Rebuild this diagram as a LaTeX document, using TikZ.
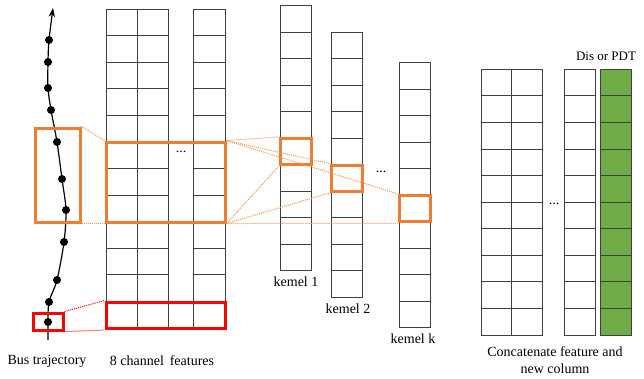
\documentclass[tikz,border=0pt]{standalone}
\usepackage{fontspec}
\setmainfont{Liberation Serif}
\usetikzlibrary{arrows.meta}
\definecolor{hlorange}{HTML}{ED7D31}
\definecolor{hlred}{HTML}{FF0000}
\definecolor{newcol}{HTML}{70AD47}
\definecolor{gridline}{HTML}{404040}
\tikzset{
  cell/.style={draw=gridline, line width=1pt},
  greencell/.style={draw=gridline, line width=1pt, fill=newcol},
  obox/.style={draw=hlorange, line width=3pt},
  rbox/.style={draw=hlred, line width=3pt},
  olink/.style={draw=hlorange!80, line width=1pt, densely dotted},
  rlink/.style={draw=hlred, line width=1pt, densely dotted},
  lbl/.style={font=\fontsize{14}{16}\selectfont, inner sep=0pt},
  dot/.style={fill=black, circle, inner sep=0pt, minimum size=8pt},
}
\begin{document}
\begin{tikzpicture}[x=1pt,y=-1pt]
\useasboundingbox (0,0) rectangle (644,378);

% ---------- bus trajectory ----------
\draw[line width=1.2pt, -{Stealth[length=9pt,width=6.5pt]}] plot[smooth, tension=0.5] coordinates {
  (48,340) (48,322) (49,302) (57,280) (64,242) (66,210) (62,179)
  (57,142) (51,110) (48,88) (48,62) (49,40) (53,8)};
\foreach \p [count=\i] in {(48,322),(49,302),(57,280),(64,242),(66,210),(62,179),(57,142),(51,110),(48,88),(48,62),(49,40)}
  \node[dot] (pt\i) at \p {};

\node[obox, minimum width=45pt, minimum height=94pt, inner sep=0pt] (trajwin) at (57.5,175) {};
\node[rbox, minimum width=30pt, minimum height=17pt, inner sep=0pt] (trajpt) at (48,321.5) {};
\node[lbl] (trajlbl) at (47,361) {Bus trajectory};

% ---------- 8 channel features ----------
\def\fh{26.58}
\foreach \r in {0,...,11} {
  \foreach \x/\w in {106/31,137/31,193/32}
    \draw[cell] (\x,9+\r*\fh) rectangle ++(\w,\fh);
}
\draw[cell] (168,9+11*\fh) rectangle ++(25,\fh);
\node[lbl] (fdots) at (181,152) {...};
\node[obox, minimum width=119pt, minimum height=80pt, inner sep=0pt] (featwin) at (165.5,182) {};
\node[rbox, minimum width=119pt, minimum height=26.5pt, inner sep=0pt] (featrow) at (165.5,315.3) {};
\node[lbl] (featlbl) at (162,361) {8 channel\, features};

% links between trajectory and features
\draw[olink] (trajwin.north east) -- (featwin.north west);
\draw[olink] (trajwin.south east) -- (featwin.south west);
\draw[rlink] (trajpt.north east) -- (featrow.north west);
\draw[rlink] (trajpt.south east) -- (featrow.south west);

% ---------- kernels ----------
\def\kh{26.5}
\foreach \kx/\ky in {280/5.7, 331/32.3, 399.5/62.7}
  \foreach \r in {0,...,9}
    \draw[cell] (\kx,\ky+\r*\kh) rectangle ++(31,\kh);
\node[obox, minimum width=31pt, minimum height=26.5pt, inner sep=0pt] (kwin1) at (295.5,151.7) {};
\node[obox, minimum width=31pt, minimum height=26.5pt, inner sep=0pt] (kwin2) at (346.5,178.3) {};
\node[obox, minimum width=31pt, minimum height=26.5pt, inner sep=0pt] (kwink) at (415,208.7) {};
\node[lbl] (klbl1) at (296,282) {kemel 1};
\node[lbl] (klbl2) at (348,309) {kemel 2};
\node[lbl] (klblk) at (413,339) {kemel k};
\node[lbl] (kdots) at (381,172) {...};

% links from the feature window to each kernel window
\foreach \k in {kwin1,kwin2,kwink} {
  \draw[olink] (featwin.north east) -- (\k.north west);
  \draw[olink] (featwin.south east) -- (\k.south west);
}

% ---------- concatenated features ----------
\def\ch{26.57}
\foreach \r in {0,...,9} {
  \draw[cell] (481,69.3+\r*\ch) rectangle ++(30.7,\ch);
  \draw[cell] (511.7,69.3+\r*\ch) rectangle ++(30.6,\ch);
  \draw[cell] (564.3,69.3+\r*\ch) rectangle ++(31,\ch);
  \draw[greencell] (600,69.3+\r*\ch) rectangle ++(31,\ch);
}
\node[lbl] (cdots) at (554,204) {...};
\node[lbl, font=\fontsize{13}{15}\selectfont] (newlbl) at (606,56) {Dis or PDT};
\node[lbl, align=center, font=\fontsize{14}{16.5}\selectfont] (catlbl) at (555,360) {Concatenate feature and\\new column};
\end{tikzpicture}
\end{document}
